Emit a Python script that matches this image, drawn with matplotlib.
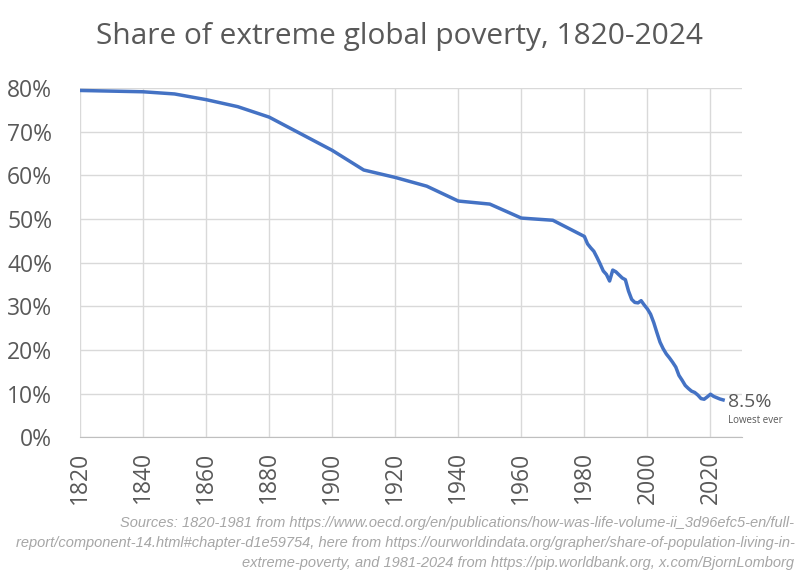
import matplotlib
matplotlib.use("Agg")
import matplotlib.pyplot as plt
from matplotlib.ticker import PercentFormatter, MultipleLocator

# Share of world population in extreme poverty (%)
years = [1820, 1840, 1850, 1860, 1870, 1880, 1890, 1900, 1910, 1920,
         1930, 1940, 1950, 1960, 1970, 1980, 1981, 1982, 1983, 1984,
         1985, 1986, 1987, 1988, 1989, 1990, 1991, 1992, 1993, 1994,
         1995, 1996, 1997, 1998, 1999, 2000, 2001, 2002, 2003, 2004,
         2005, 2006, 2007, 2008, 2009, 2010, 2011, 2012, 2013, 2014,
         2015, 2016, 2017, 2018, 2019, 2020, 2021, 2022, 2023, 2024]
share = [79.4, 79.1, 78.6, 77.3, 75.7, 73.3, 69.5, 65.7, 61.2, 59.5,
         57.5, 54.1, 53.4, 50.2, 49.7, 46.0, 44.3, 43.4, 42.6, 41.2,
         39.7, 38.1, 37.3, 35.8, 38.3, 37.9, 37.2, 36.5, 36.1, 33.5,
         31.6, 30.9, 30.8, 31.3, 30.3, 29.4, 28.2, 26.3, 24.0, 21.8,
         20.3, 19.1, 18.2, 17.2, 16.1, 14.2, 13.1, 11.9, 11.2, 10.6,
         10.3, 9.7, 8.9, 8.75, 9.3, 9.9, 9.4, 9.1, 8.8, 8.6]

title = "Share of extreme global poverty, 1820-2024"
end_label = "8.5%"
end_note = "Lowest ever"
source = ("Sources: 1820-1981 from https://www.oecd.org/en/publications/how-was-life-volume-ii_3d96efc5-en/full-\n"
          "report/component-14.html#chapter-d1e59754, here from https://ourworldindata.org/grapher/share-of-population-living-in-\n"
          "extreme-poverty, and 1981-2024 from https://pip.worldbank.org, x.com/BjornLomborg")

grey = "#595959"
plt.rcParams['font.family'] = ['Open Sans', 'DejaVu Sans']

fig = plt.figure(figsize=(8, 5.76), dpi=100)
ax = fig.add_axes([0.1, 0.2405, 0.8275, 0.607])

ax.plot(years, share, color="#4472C4", linewidth=2.5, solid_joinstyle="round")

ax.set_xlim(1820, 2030)
ax.set_ylim(0, 80)
ax.yaxis.set_major_locator(MultipleLocator(10))
ax.yaxis.set_major_formatter(PercentFormatter(decimals=0))
ax.set_xticks(range(1820, 2021, 20))

ax.grid(True, color="#d9d9d9", linewidth=1)
ax.set_axisbelow(True)
for side in ["top", "right", "left"]:
    ax.spines[side].set_visible(False)
ax.spines["bottom"].set_color("#bfbfbf")
ax.tick_params(axis="both", length=0, colors=grey, labelsize=16.5)
ax.tick_params(axis="x", rotation=90, pad=10)
ax.tick_params(axis="y", pad=20)

ax.text(2025.5, 8.2, end_label, color=grey, fontsize=14, va="center", ha="left")
ax.text(2025.7, 3.8, end_note, color=grey, fontsize=7, va="center", ha="left")

fig.text(0.5, 0.936, title, color=grey, fontsize=21.5, ha="center", va="center")
fig.text(0.993, 0.057, source, color="#a6a6a6", fontsize=10.5, style="italic",
         ha="right", va="center", linespacing=1.55,
         family=["Liberation Sans", "DejaVu Sans"])

fig.savefig("out.png", dpi=100)
